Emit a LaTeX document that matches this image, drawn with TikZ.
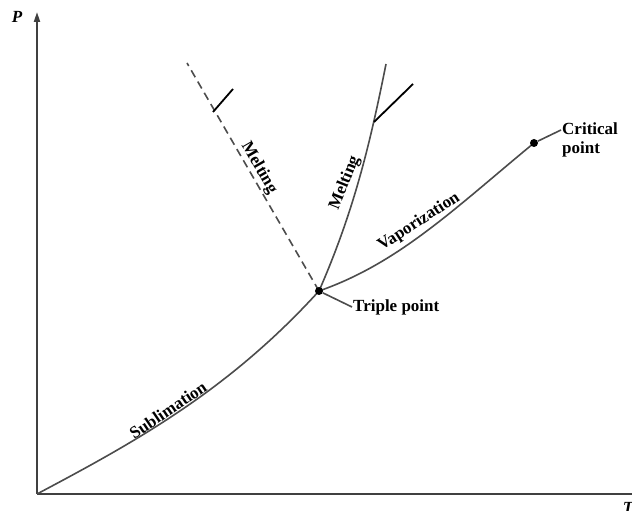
\documentclass[tikz,border=0pt]{standalone}
\usepackage{fontspec}
\setmainfont{Liberation Serif}
\usetikzlibrary{arrows.meta}
\begin{document}
\begin{tikzpicture}[x=1pt,y=1pt,
  axis/.style={line width=2pt,draw=black!75},
  curve/.style={line width=1.6pt,draw=black!70},
  dashcurve/.style={line width=1.6pt,draw=black!70,dash pattern=on 8pt off 5pt},
  tickmark/.style={line width=1.8pt,draw=black},
  lbl/.style={font=\fontsize{17}{19}\selectfont\bfseries,inner sep=1pt},
  axlbl/.style={font=\fontsize{17}{19}\selectfont\bfseries\itshape,inner sep=0pt},
  dot/.style={circle,fill=black,inner sep=0pt,minimum size=8pt}]
\useasboundingbox (0,0) rectangle (632,511);
\fill[white] (0,0) rectangle (632,511);
% points
\coordinate (O) at (37,17);
\coordinate (Ytop) at (37,499);
\coordinate (Xend) at (640,17);
\coordinate (TP) at (319,220);
\coordinate (CP) at (534,368);
\coordinate (MTop) at (386,447);
\coordinate (DTop) at (187,448);
\coordinate (MTickA) at (374,389);
\coordinate (MTickB) at (413,427);
\coordinate (DTickA) at (213,399);
\coordinate (DTickB) at (233,422);
% axes
\draw[axis,-{Triangle[length=10pt,width=6pt]}] (O) -- (Ytop);
\draw[axis] (O) -- (Xend);
\node[axlbl] (P) at (17,494) {P};
\node[axlbl,anchor=north] (T) at (628,9) {T};
% curves
\draw[curve] (O) .. controls (137,70) and (229,121) .. (TP);
\draw[curve] (TP) .. controls (354,300) and (370,367) .. (MTop);
\draw[dashcurve] (TP) -- (DTop);
\draw[curve] (TP) .. controls (399,248) and (454,302) .. (CP);
% ticks
\draw[tickmark] (MTickA) -- (MTickB);
\draw[tickmark] (DTickA) -- (DTickB);
% dots
\node[dot] (tpdot) at (TP) {};
\node[dot] (cpdot) at (CP) {};
% labels
\node[lbl,rotate=-60] (meltD) at (259,343) {Melting};
\node[lbl,rotate=68] (meltS) at (345,328) {Melting};
\node[lbl,rotate=33] (vap) at (419,289) {Vaporization};
\node[lbl,rotate=34] (sub) at (168,101) {Sublimation};
\node[lbl,anchor=west] (tpl) at (352,204) {Triple point};
\node[lbl,anchor=west,align=left] (cpl) at (561,371) {Critical\\point};
\draw[curve] (tpdot) -- (tpl.west);
\draw[curve] (cpdot) -- (561,381);
\end{tikzpicture}
\end{document}
